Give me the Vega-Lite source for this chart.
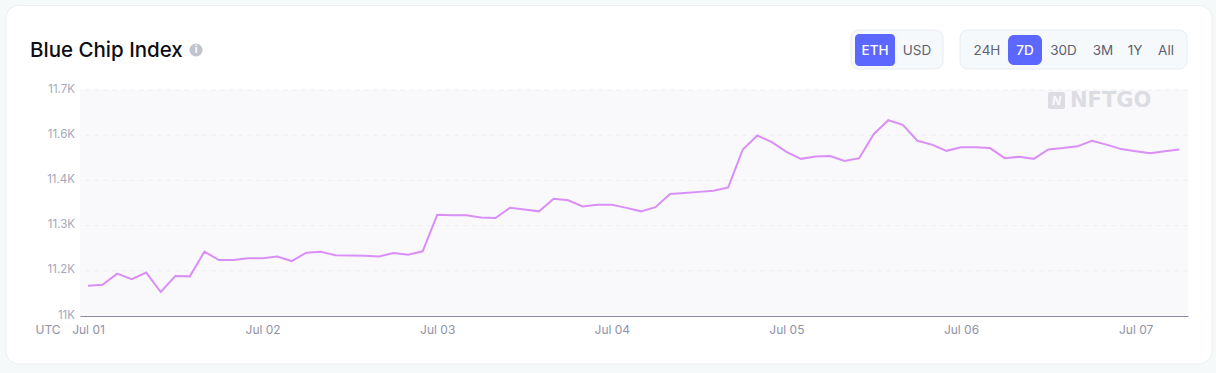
{"$schema":"https://vega.github.io/schema/vega-lite/v6.json","width":1108,"height":226,"autosize":{"type":"none"},"padding":{"left":80,"top":90,"right":28,"bottom":57},"background":"#f6f9fa","view":{"stroke":null},"config":{"font":"Inter"},"title":{"text":"Blue Chip Index","anchor":"start","frame":"group","dx":-50,"dy":60,"fontSize":20.5,"fontWeight":500,"color":"#0d0d14","font":"Inter","zindex":1},"datasets":{"index":[{"t":"2023-07-01T00:00:00Z","v":11127},{"t":"2023-07-01T02:00:00Z","v":11130},{"t":"2023-07-01T04:00:00Z","v":11162},{"t":"2023-07-01T06:00:00Z","v":11146},{"t":"2023-07-01T08:00:00Z","v":11165},{"t":"2023-07-01T10:00:00Z","v":11109},{"t":"2023-07-01T12:00:00Z","v":11155},{"t":"2023-07-01T14:00:00Z","v":11154},{"t":"2023-07-01T16:00:00Z","v":11225},{"t":"2023-07-01T18:00:00Z","v":11201},{"t":"2023-07-01T20:00:00Z","v":11201},{"t":"2023-07-01T22:00:00Z","v":11206},{"t":"2023-07-02T00:00:00Z","v":11206},{"t":"2023-07-02T02:00:00Z","v":11211},{"t":"2023-07-02T04:00:00Z","v":11198},{"t":"2023-07-02T06:00:00Z","v":11222},{"t":"2023-07-02T08:00:00Z","v":11225},{"t":"2023-07-02T10:00:00Z","v":11215},{"t":"2023-07-02T12:00:00Z","v":11214},{"t":"2023-07-02T14:00:00Z","v":11213},{"t":"2023-07-02T16:00:00Z","v":11211},{"t":"2023-07-02T18:00:00Z","v":11221},{"t":"2023-07-02T20:00:00Z","v":11216},{"t":"2023-07-02T22:00:00Z","v":11226},{"t":"2023-07-03T00:00:00Z","v":11331},{"t":"2023-07-03T02:00:00Z","v":11330},{"t":"2023-07-03T04:00:00Z","v":11330},{"t":"2023-07-03T06:00:00Z","v":11323},{"t":"2023-07-03T08:00:00Z","v":11322},{"t":"2023-07-03T10:00:00Z","v":11351},{"t":"2023-07-03T12:00:00Z","v":11346},{"t":"2023-07-03T14:00:00Z","v":11341},{"t":"2023-07-03T16:00:00Z","v":11377},{"t":"2023-07-03T18:00:00Z","v":11373},{"t":"2023-07-03T20:00:00Z","v":11355},{"t":"2023-07-03T22:00:00Z","v":11360},{"t":"2023-07-04T00:00:00Z","v":11360},{"t":"2023-07-04T02:00:00Z","v":11351},{"t":"2023-07-04T04:00:00Z","v":11341},{"t":"2023-07-04T06:00:00Z","v":11353},{"t":"2023-07-04T08:00:00Z","v":11391},{"t":"2023-07-04T10:00:00Z","v":11394},{"t":"2023-07-04T12:00:00Z","v":11397},{"t":"2023-07-04T14:00:00Z","v":11400},{"t":"2023-07-04T16:00:00Z","v":11410},{"t":"2023-07-04T18:00:00Z","v":11519},{"t":"2023-07-04T20:00:00Z","v":11559},{"t":"2023-07-04T22:00:00Z","v":11540},{"t":"2023-07-05T00:00:00Z","v":11512},{"t":"2023-07-05T02:00:00Z","v":11492},{"t":"2023-07-05T04:00:00Z","v":11499},{"t":"2023-07-05T06:00:00Z","v":11500},{"t":"2023-07-05T08:00:00Z","v":11486},{"t":"2023-07-05T10:00:00Z","v":11494},{"t":"2023-07-05T12:00:00Z","v":11563},{"t":"2023-07-05T14:00:00Z","v":11603},{"t":"2023-07-05T16:00:00Z","v":11590},{"t":"2023-07-05T18:00:00Z","v":11544},{"t":"2023-07-05T20:00:00Z","v":11533},{"t":"2023-07-05T22:00:00Z","v":11515},{"t":"2023-07-06T00:00:00Z","v":11525},{"t":"2023-07-06T02:00:00Z","v":11525},{"t":"2023-07-06T04:00:00Z","v":11523},{"t":"2023-07-06T06:00:00Z","v":11494},{"t":"2023-07-06T08:00:00Z","v":11498},{"t":"2023-07-06T10:00:00Z","v":11492},{"t":"2023-07-06T12:00:00Z","v":11519},{"t":"2023-07-06T14:00:00Z","v":11523},{"t":"2023-07-06T16:00:00Z","v":11528},{"t":"2023-07-06T18:00:00Z","v":11544},{"t":"2023-07-06T20:00:00Z","v":11533},{"t":"2023-07-06T22:00:00Z","v":11520},{"t":"2023-07-07T00:00:00Z","v":11514},{"t":"2023-07-07T02:00:00Z","v":11508},{"t":"2023-07-07T04:00:00Z","v":11514},{"t":"2023-07-07T06:00:00Z","v":11519}],"one":[{"k":1}]},"layer":[{"data":{"name":"one"},"mark":{"type":"rect","fill":"#ffffff","stroke":"#eceef1","strokeWidth":1,"cornerRadius":13},"encoding":{"x":{"value":-74},"x2":{"value":1132},"y":{"value":-84.5},"y2":{"value":274}}},{"data":{"name":"one"},"mark":{"type":"rect","fill":"#f9f9fc"},"encoding":{"x":{"value":0},"x2":{"value":1108},"y":{"value":0},"y2":{"value":226}}},{"data":{"values":[{"tick":11170},{"tick":11300},{"tick":11430},{"tick":11560},{"tick":11690}]},"mark":{"type":"rule","stroke":"#eeeef3","strokeWidth":1,"strokeDash":[5,4]},"encoding":{"y":{"field":"tick","type":"quantitative","title":null,"scale":{"domain":[11040,11690]},"axis":{"zindex":1,"values":[11040,11170,11300,11430,11560,11690],"labelExpr":"replace(format(datum.value/1000,'.1f'),'.0','')+'K'","ticks":false,"grid":false,"domain":false,"labelFontSize":11.5,"labelColor":"#a5a8ba","labelPadding":5.5,"labelOffset":-1}}}},{"data":{"name":"index"},"mark":{"type":"line","stroke":"#da8ff7","strokeWidth":2,"strokeJoin":"miter"},"encoding":{"x":{"field":"t","type":"temporal","title":null,"scale":{"type":"utc","domain":["2023-06-30T22:54:00Z","2023-07-07T07:12:00Z"]},"axis":{"zindex":1,"values":["2023-07-01T00:00:00Z","2023-07-02T00:00:00Z","2023-07-03T00:00:00Z","2023-07-04T00:00:00Z","2023-07-05T00:00:00Z","2023-07-06T00:00:00Z","2023-07-07T00:00:00Z"],"format":"%b %d","ticks":false,"grid":false,"labelFontSize":12,"labelColor":"#8f92a6","labelPadding":8,"labelFlush":false,"labelOverlap":false,"domainColor":"#8a8ca3","domainWidth":1}},"y":{"field":"v","type":"quantitative","title":null,"scale":{"domain":[11040,11690]},"axis":{"zindex":1,"values":[11040,11170,11300,11430,11560,11690],"labelExpr":"replace(format(datum.value/1000,'.1f'),'.0','')+'K'","ticks":false,"grid":false,"domain":false,"labelFontSize":11.5,"labelColor":"#a5a8ba","labelPadding":5.5,"labelOffset":-1}}}},{"data":{"values":[{"label":"UTC"}]},"mark":{"type":"text","fontSize":12,"color":"#8f92a6","align":"center","baseline":"middle"},"encoding":{"text":{"field":"label"},"x":{"value":-32},"y":{"value":240}}},{"data":{"name":"one"},"mark":{"type":"arc","fill":"#c0c3d0","innerRadius":0,"outerRadius":6.5,"theta":0,"theta2":6.2832},"encoding":{"x":{"value":116},"y":{"value":-40}}},{"data":{"values":[{"label":"i"}]},"mark":{"type":"text","fontSize":10,"fontWeight":700,"color":"#ffffff","align":"center","baseline":"middle"},"encoding":{"text":{"field":"label"},"x":{"value":116},"y":{"value":-40}}},{"data":{"name":"one"},"mark":{"type":"rect","fill":"#dcdde2","cornerRadius":2},"encoding":{"x":{"value":968},"x2":{"value":985},"y":{"value":2},"y2":{"value":19}}},{"data":{"values":[{"label":"N"}]},"mark":{"type":"text","fontSize":12,"fontWeight":700,"fontStyle":"italic","color":"#f9f9fc","align":"center","baseline":"middle"},"encoding":{"text":{"field":"label"},"x":{"value":976.5},"y":{"value":11}}},{"data":{"values":[{"label":"NFTGO"}]},"mark":{"type":"text","fontSize":21,"fontWeight":700,"font":"DejaVu Sans","color":"#dcdde2","align":"left","baseline":"middle"},"encoding":{"text":{"field":"label"},"x":{"value":990},"y":{"value":11}}},{"data":{"name":"one"},"mark":{"type":"rect","fill":"#f6f9fb","stroke":"#e8ebef","cornerRadius":8},"encoding":{"x":{"value":771},"x2":{"value":863},"y":{"value":-60},"y2":{"value":-21}}},{"data":{"name":"one"},"mark":{"type":"rect","fill":"#f6f9fb","stroke":"#e8ebef","cornerRadius":8},"encoding":{"x":{"value":880},"x2":{"value":1107},"y":{"value":-60},"y2":{"value":-21}}},{"data":{"name":"one"},"mark":{"type":"rect","fill":"#5c67ff","cornerRadius":4},"encoding":{"x":{"value":775},"x2":{"value":815},"y":{"value":-56},"y2":{"value":-24}}},{"data":{"name":"one"},"mark":{"type":"rect","fill":"#5c67ff","cornerRadius":6},"encoding":{"x":{"value":928},"x2":{"value":962},"y":{"value":-55},"y2":{"value":-25}}},{"data":{"values":[{"label":"ETH"}]},"mark":{"type":"text","fontSize":13.5,"fontWeight":500,"color":"#ffffff"},"encoding":{"text":{"field":"label"},"x":{"value":795},"y":{"value":-39.5}}},{"data":{"values":[{"label":"USD"}]},"mark":{"type":"text","fontSize":13.5,"color":"#5e5f73"},"encoding":{"text":{"field":"label"},"x":{"value":837},"y":{"value":-39.5}}},{"data":{"values":[{"label":"24H"}]},"mark":{"type":"text","fontSize":13.5,"color":"#5e5f73"},"encoding":{"text":{"field":"label"},"x":{"value":907},"y":{"value":-39.5}}},{"data":{"values":[{"label":"7D"}]},"mark":{"type":"text","fontSize":13.5,"fontWeight":500,"color":"#ffffff"},"encoding":{"text":{"field":"label"},"x":{"value":945},"y":{"value":-39.5}}},{"data":{"values":[{"label":"30D"}]},"mark":{"type":"text","fontSize":13.5,"color":"#5e5f73"},"encoding":{"text":{"field":"label"},"x":{"value":983.5},"y":{"value":-39.5}}},{"data":{"values":[{"label":"3M"}]},"mark":{"type":"text","fontSize":13.5,"color":"#5e5f73"},"encoding":{"text":{"field":"label"},"x":{"value":1023},"y":{"value":-39.5}}},{"data":{"values":[{"label":"1Y"}]},"mark":{"type":"text","fontSize":13.5,"color":"#5e5f73"},"encoding":{"text":{"field":"label"},"x":{"value":1055},"y":{"value":-39.5}}},{"data":{"values":[{"label":"All"}]},"mark":{"type":"text","fontSize":13.5,"color":"#5e5f73"},"encoding":{"text":{"field":"label"},"x":{"value":1086},"y":{"value":-39.5}}}]}
